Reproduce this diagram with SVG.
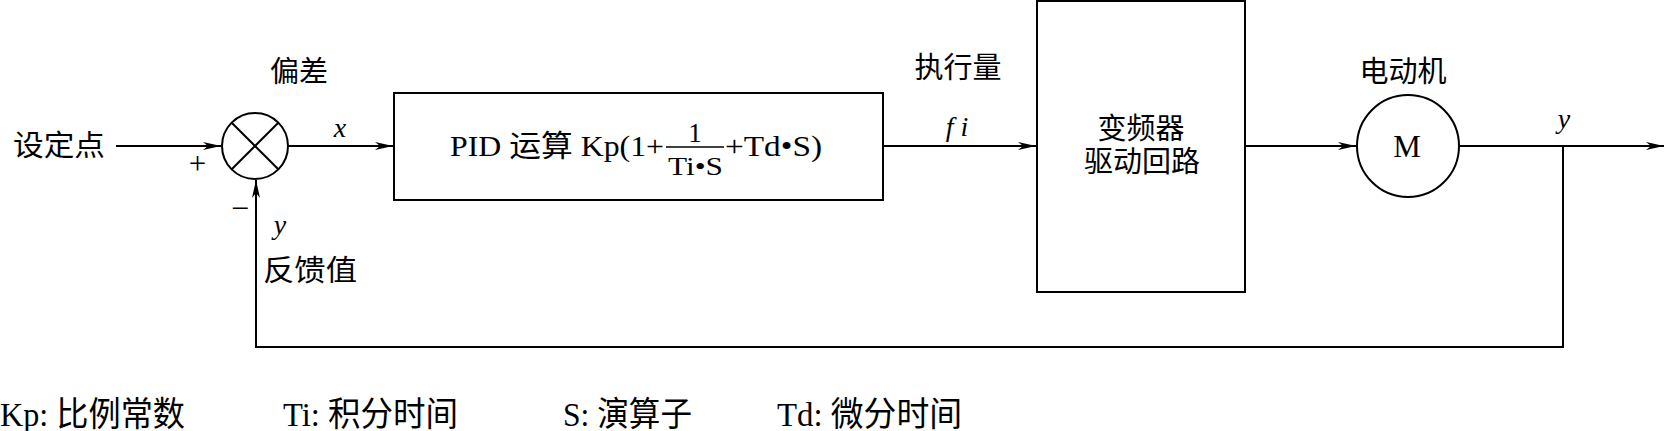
<svg xmlns="http://www.w3.org/2000/svg" width="1666" height="431" viewBox="0 0 1666 431">
<style>
.ln{fill:none;stroke:#000;stroke-width:2}
.t{font-family:"Liberation Serif","Noto Sans CJK SC",serif;fill:#000}
.cjk{font-family:"Liberation Serif","Noto Sans CJK SC",serif;font-size:29px;fill:#000}
.it{font-family:"Liberation Serif",serif;font-style:italic;font-size:28px;fill:#000}
.lg{font-family:"Liberation Serif","Noto Sans CJK SC",serif;font-size:34px;fill:#000}
</style>
<defs>
<marker id="ah" markerUnits="userSpaceOnUse" markerWidth="20" markerHeight="10" refX="18" refY="4" orient="auto">
<path d="M0,0 L18,4 L0,8 L5,4 z" fill="#000"/>
</marker>
</defs>
<rect width="1666" height="431" fill="#fff"/>

<g id="connectors">
<line class="ln" x1="116" y1="146" x2="221" y2="146" marker-end="url(#ah)"/>
<line class="ln" x1="288" y1="146" x2="393" y2="146" marker-end="url(#ah)"/>
<line class="ln" x1="883" y1="146" x2="1036" y2="146" marker-end="url(#ah)"/>
<line class="ln" x1="1245" y1="146" x2="1356" y2="146" marker-end="url(#ah)"/>
<line class="ln" x1="1459" y1="146" x2="1664" y2="146" marker-end="url(#ah)"/>
<polyline class="ln" points="1563,146 1563,347 256,347 256,180" marker-end="url(#ah)"/>
</g>

<g id="sum">
<circle class="ln" cx="255" cy="146" r="33"/>
<line class="ln" x1="231.7" y1="122.7" x2="278.3" y2="169.3"/>
<line class="ln" x1="278.3" y1="122.7" x2="231.7" y2="169.3"/>
<text class="t" x="197.5" y="174" font-size="31" text-anchor="middle">+</text>
<text class="t" x="240" y="219" font-size="32" text-anchor="middle">−</text>
</g>

<g id="pid">
<rect class="ln" x="394" y="93" width="489" height="107"/>
<text class="t" x="450" y="156" font-size="30" textLength="214" lengthAdjust="spacingAndGlyphs">PID 运算 Kp(1+</text>
<text class="t" x="695" y="142" font-size="27" text-anchor="middle">1</text>
<line x1="666" y1="147" x2="724" y2="147" stroke="#000" stroke-width="1.5"/>
<text class="t" x="668" y="175" font-size="26" textLength="55" lengthAdjust="spacingAndGlyphs">Ti•S</text>
<text class="t" x="725" y="156" font-size="30" textLength="97" lengthAdjust="spacingAndGlyphs">+Td•S)</text>
</g>

<g id="inverter">
<rect class="ln" x="1037" y="1" width="208" height="291"/>
<text class="cjk" x="1141" y="139" text-anchor="middle">变频器</text>
<text class="cjk" x="1142" y="172" text-anchor="middle">驱动回路</text>
</g>

<g id="motor">
<circle class="ln" cx="1408" cy="146" r="51"/>
<text class="t" x="1407" y="157" font-size="31" text-anchor="middle">M</text>
</g>

<g id="labels">
<text class="cjk" x="13" y="156" textLength="92" lengthAdjust="spacingAndGlyphs">设定点</text>
<text class="cjk" x="299" y="82" text-anchor="middle">偏差</text>
<text class="it" x="340" y="137" text-anchor="middle">x</text>
<text class="cjk" x="958" y="78" text-anchor="middle">执行量</text>
<text class="it" x="957" y="136" text-anchor="middle">f i</text>
<text class="cjk" x="1403" y="82" text-anchor="middle">电动机</text>
<text class="it" x="1564" y="128" text-anchor="middle">y</text>
<text class="it" x="280" y="234" text-anchor="middle">y</text>
<text class="cjk" x="263" y="281" textLength="94" lengthAdjust="spacingAndGlyphs">反馈值</text>
</g>

<g id="legend">
<text class="lg" x="0" y="426" textLength="185" lengthAdjust="spacingAndGlyphs">Kp: 比例常数</text>
<text class="lg" x="283" y="426" textLength="175" lengthAdjust="spacingAndGlyphs">Ti: 积分时间</text>
<text class="lg" x="563" y="426" textLength="129" lengthAdjust="spacingAndGlyphs">S: 演算子</text>
<text class="lg" x="777" y="426" textLength="185" lengthAdjust="spacingAndGlyphs">Td: 微分时间</text>
</g>
</svg>
